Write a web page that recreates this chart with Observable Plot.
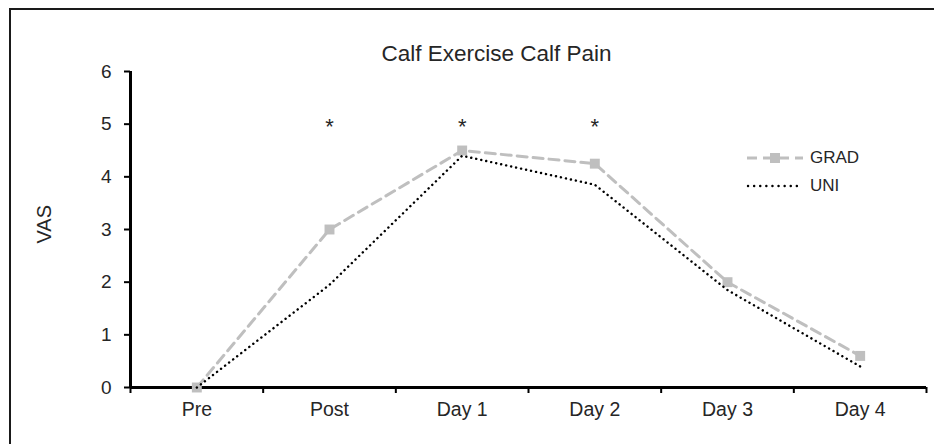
<!DOCTYPE html>
<html><head><meta charset="utf-8">
<script src="https://cdn.jsdelivr.net/npm/d3@7"></script>
<script src="https://cdn.jsdelivr.net/npm/@observablehq/plot@0.6"></script>
<style>
body{margin:0;background:#fff;font-family:"Liberation Sans",Arial,sans-serif;}
#wrap{position:relative;width:934px;height:444px;overflow:hidden;background:#fff;}
#border{position:absolute;left:9px;top:8px;width:960px;height:480px;border:2px solid #1a1a1a;box-sizing:border-box;}
#chart{position:absolute;left:0;top:0;}
#legend{position:absolute;left:745px;top:144px;}
#legend div{display:flex;align-items:center;height:28px;font-size:17px;color:#262626;}
#legend svg{margin-right:5px;}
</style></head><body>
<div id="wrap"><div id="border"></div><div id="chart"></div><div id="legend"></div></div>
<script>
const categories = ["Pre", "Post", "Day 1", "Day 2", "Day 3", "Day 4"];
const gradValues = [0, 3, 4.5, 4.25, 2, 0.6];
const uniValues = [0, 1.95, 4.4, 3.85, 1.85, 0.4];
const significant = ["Post", "Day 1", "Day 2"];
const significanceLevel = 5;
const yTicks = [0, 1, 2, 3, 4, 5, 6];
const seriesNames = ["GRAD", "UNI"];
const titleText = "Calf Exercise Calf Pain";
const yLabel = "VAS";

const gradColor = "#bfbfbf";
const uniColor = "#000000";

const grad = categories.map((c, i) => ({i: i + 0.5, v: gradValues[i]}));
const uni = categories.map((c, i) => ({i: i + 0.5, v: uniValues[i]}));
const sig = significant.map(c => ({i: categories.indexOf(c) + 0.5, v: significanceLevel}));
const boundaries = d3.range(categories.length + 1);

const chart = Plot.plot({
  width: 934, height: 444,
  marginLeft: 130, marginRight: 8, marginTop: 71, marginBottom: 57,
  style: {fontFamily: "'Liberation Sans', Arial, sans-serif", fontSize: "18px", color: "#262626", background: "transparent", overflow: "visible"},
  x: {domain: [0, categories.length], axis: null},
  y: {domain: [0, 6], axis: null},
  marks: [
    Plot.axisY(yTicks, {tickSize: 6, tickPadding: 13, tickFormat: d3.format("d"), stroke: "#000", strokeWidth: 2, fontSize: 19, fill: "#262626", label: null}),
    Plot.axisX(boundaries, {tickSize: 6, tickFormat: () => "", stroke: "#000", strokeWidth: 2, label: null}),
    Plot.ruleY([0], {stroke: "#000", strokeWidth: 3}),
    Plot.ruleX([0], {stroke: "#000", strokeWidth: 3}),
    Plot.text(categories, {x: (d, i) => i + 0.5, frameAnchor: "bottom", dy: 28, fontSize: 19.5, fill: "#262626"}),
    Plot.text([yLabel], {frameAnchor: "left", rotate: -90, dx: -86, dy: 14, fontSize: 20, fill: "#262626"}),
    Plot.text([titleText], {frameAnchor: "top", dx: -32, dy: -26, fontSize: 22.5, fill: "#262626"}),
    Plot.line(grad, {x: "i", y: "v", stroke: gradColor, strokeWidth: 3, strokeDasharray: "10,6"}),
    Plot.dot(grad, {x: "i", y: "v", symbol: "square", r: 5.6, fill: gradColor, stroke: "none"}),
    Plot.line(uni, {x: "i", y: "v", stroke: uniColor, strokeWidth: 2.4, strokeDasharray: "0.1,5", strokeLinecap: "round"}),
    Plot.text(sig, {x: "i", y: "v", text: () => "*", dy: 3, fontSize: 22, fill: "#262626"})
  ]
});
document.getElementById("chart").appendChild(chart);

// legend
const legend = document.getElementById("legend");
seriesNames.forEach((name, k) => {
  const row = document.createElement("div");
  const svg = d3.create("svg").attr("width", 60).attr("height", 14);
  if (k === 0) {
    svg.append("line").attr("x1", 2).attr("x2", 58).attr("y1", 7).attr("y2", 7)
      .attr("stroke", gradColor).attr("stroke-width", 3).attr("stroke-dasharray", "10,6");
    svg.append("rect").attr("x", 25).attr("y", 2).attr("width", 10).attr("height", 10).attr("fill", gradColor);
  } else {
    svg.append("line").attr("x1", 3).attr("x2", 57).attr("y1", 7).attr("y2", 7)
      .attr("stroke", uniColor).attr("stroke-width", 2.4).attr("stroke-dasharray", "0.1,6").attr("stroke-linecap", "round");
  }
  row.appendChild(svg.node());
  const span = document.createElement("span");
  span.textContent = name;
  row.appendChild(span);
  legend.appendChild(row);
});
</script>
</body></html>
